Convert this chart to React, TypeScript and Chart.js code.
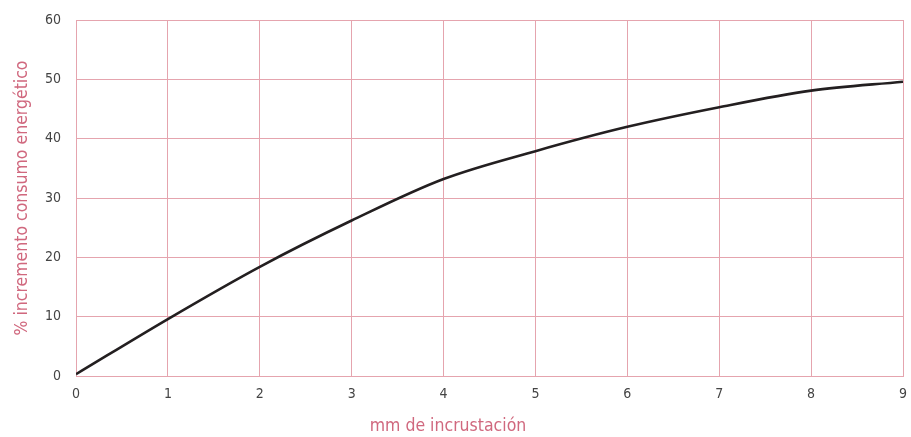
import React, { useEffect, useRef } from "react";
import { Chart, registerables } from "chart.js";

Chart.register(...registerables);

const xValues = [0, 1, 2, 3, 4, 5, 6, 7, 8, 9];
const yValues = [0.3, 9.6, 18.4, 26.2, 33.2, 37.9, 42.0, 45.3, 48.1, 49.6];
const xTitle = "mm de incrustación";
const yTitle = "% incremento consumo energético";

const FONT = "'DejaVu Sans Condensed', sans-serif";
const GRID = "#e5a4ae";
const PINK = "#d0687e";
const TICK = "#444444";

const xTitlePlugin = {
  id: "xTitlePlugin",
  afterDraw(chart: any) {
    const ctx = chart.ctx;
    ctx.save();
    ctx.font = `17.5px ${FONT}`;
    ctx.fillStyle = PINK;
    ctx.textAlign = "center";
    ctx.textBaseline = "middle";
    ctx.fillText(xTitle, 448, 426);
    ctx.restore();
  },
};

export default function App() {
  const ref = useRef<HTMLCanvasElement | null>(null);
  useEffect(() => {
    document.body.style.margin = "0";
    const ctx = ref.current!;
    const chart = new Chart(ctx, {
      type: "line",
      data: {
        datasets: [
          {
            data: xValues.map((x, i) => ({ x, y: yValues[i] })),
            borderColor: "#231f20",
            borderWidth: 2.6,
            pointRadius: 0,
            cubicInterpolationMode: "monotone",
            fill: false,
          },
        ],
      },
      options: {
        animation: false,
        responsive: false,
        maintainAspectRatio: false,
        layout: { padding: { top: 20, right: 8, left: 0, bottom: 0 } },
        plugins: { legend: { display: false }, tooltip: { enabled: false } },
        scales: {
          x: {
            type: "linear",
            min: 0,
            max: 9,
            border: { color: GRID, width: 1 },
            grid: { color: GRID, lineWidth: 1, drawTicks: false },
            ticks: { stepSize: 1, color: TICK, padding: 10, font: { family: FONT, size: 14 } },
            title: { display: false },
            afterFit: (s: any) => { s.height = 61; s.paddingRight = 0; s.paddingLeft = 0; },
          },
          y: {
            min: 0,
            max: 60,
            border: { color: GRID, width: 1 },
            grid: { color: GRID, lineWidth: 1, drawTicks: false },
            ticks: { stepSize: 10, color: TICK, padding: 15, font: { family: FONT, size: 14 } },
            title: { display: true, text: yTitle, color: PINK, font: { family: FONT, size: 17.5 }, padding: { top: 12, bottom: 0 } },
            afterFit: (s: any) => { s.width = 76; s.paddingTop = 0; s.paddingBottom = 0; },
          },
        },
      },
      plugins: [xTitlePlugin],
    });
    return () => chart.destroy();
  }, []);
  return (
    <div style={{ position: "relative", width: 911, height: 437 }}>
      <canvas ref={ref} width={911} height={437} style={{ display: "block" }} />
    </div>
  );
}
